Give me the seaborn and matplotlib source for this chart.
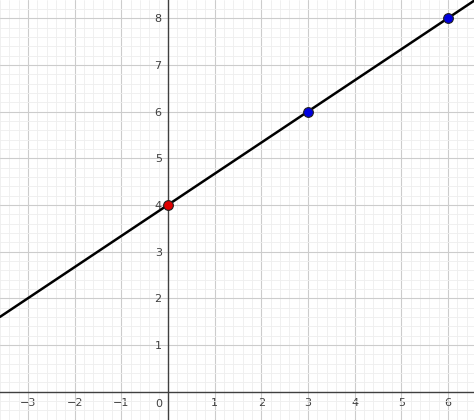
import numpy as np
import pandas as pd
import matplotlib
matplotlib.use("Agg")
import matplotlib.pyplot as plt
from matplotlib.ticker import MultipleLocator
import seaborn as sns

# points on the line
point_x = [0, 3, 6]
point_y = [4, 6, 8]
point_color = ["#e00000", "#0000e0", "#0000e0"]

x_min, x_max = -3.6, 6.56
y_min, y_max = -0.61, 8.39

sns.set_theme(style="white")
plt.rcParams['font.family'] = ['DejaVu Sans']

fig = plt.figure(figsize=(4.74, 4.2), dpi=100)
ax = fig.add_axes([0, 0, 1, 1])

# line through the points, extended across the view
slope, intercept = np.polyfit(point_x, point_y, 1)
line_df = pd.DataFrame({"x": [x_min, x_max]})
line_df["y"] = slope * line_df["x"] + intercept
sns.lineplot(data=line_df, x="x", y="y", color="black", lw=1.8, ax=ax, zorder=3)

pts = pd.DataFrame({"x": point_x, "y": point_y, "c": point_color})
for _, r in pts.iterrows():
    ax.plot(r["x"], r["y"], "o", ms=7, mfc=r["c"], mec="#202020", mew=0.8, zorder=4)

ax.set_xlim(x_min, x_max)
ax.set_ylim(y_min, y_max)
ax.xaxis.set_minor_locator(MultipleLocator(0.2))
ax.yaxis.set_minor_locator(MultipleLocator(0.2))
ax.grid(which="major", color="#cccccc", lw=0.8)
ax.grid(which="minor", color="#eeeeee", lw=0.6)
ax.set_axisbelow(True)

for s in ["top", "right"]:
    ax.spines[s].set_visible(False)
ax.spines["left"].set_position(("data", 0))
ax.spines["bottom"].set_position(("data", 0))
for s in ["left", "bottom"]:
    ax.spines[s].set_color("#404040")
    ax.spines[s].set_linewidth(1)

xt = [v for v in range(-3, 7) if v != 0]
yt = [v for v in range(1, 9)]
ax.set_xticks(xt)
ax.set_yticks(yt)
ax.set_xticklabels([("\u2212" + str(-v)) if v < 0 else str(v) for v in xt])
ax.set_yticklabels([str(v) for v in yt])
ax.tick_params(axis="both", which="major", length=3, width=0.8, colors="#404040",
               labelsize=8, direction="inout", pad=3)
ax.tick_params(which="minor", length=0)
for lbl in ax.get_xticklabels():
    lbl.set_zorder(5)
ax.text(-0.12, -0.15, "0", ha="right", va="top", fontsize=8, color="#404040")
ax.set_xlabel("")
ax.set_ylabel("")

fig.savefig("out.png", dpi=100)
